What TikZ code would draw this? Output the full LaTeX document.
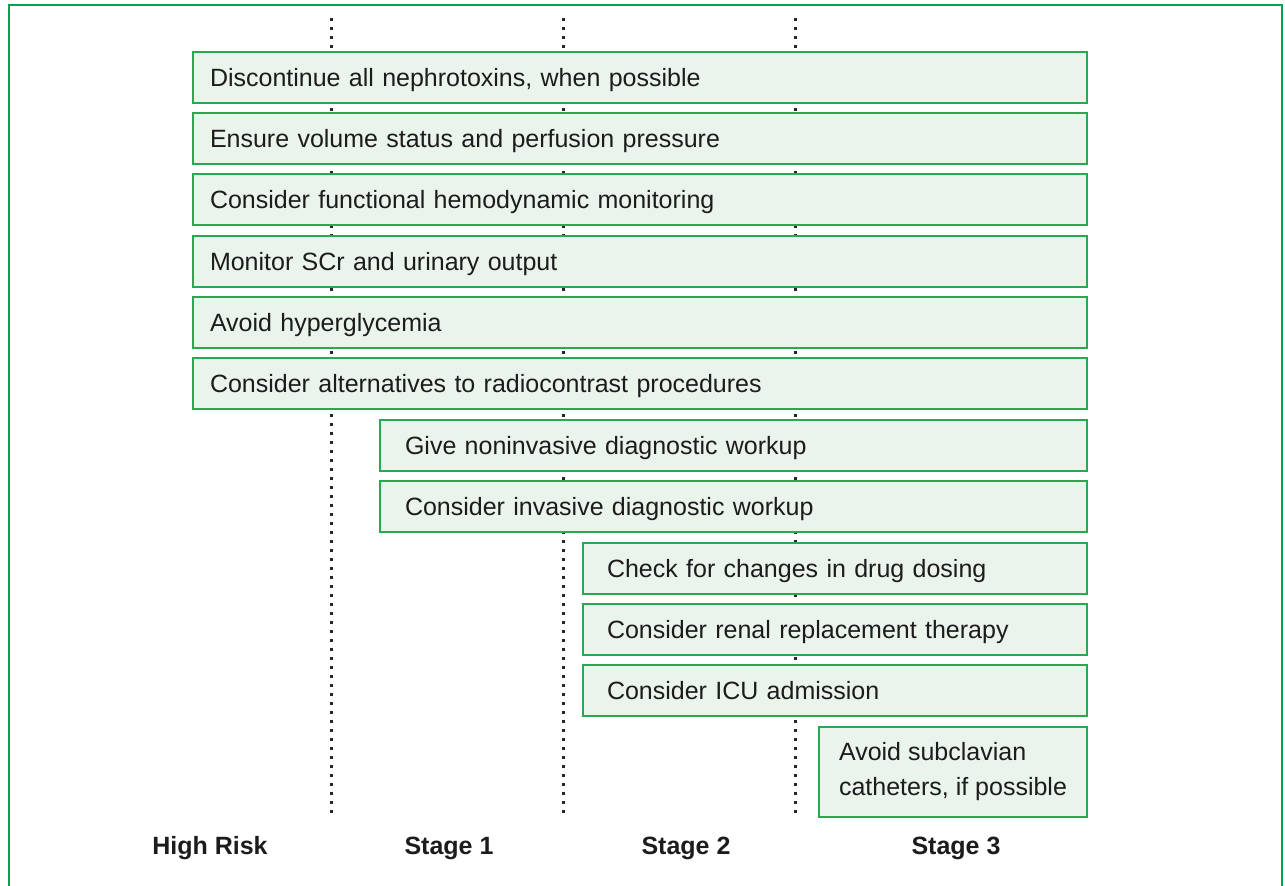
\documentclass[tikz,border=0pt]{standalone}
\usepackage{fontspec}
\setmainfont{Liberation Sans}
\definecolor{frgreen}{RGB}{0,163,80}
\definecolor{bxgreen}{RGB}{40,168,80}
\definecolor{bxfill}{RGB}{234,244,235}
\definecolor{txt}{RGB}{28,28,28}
\begin{document}
\begin{tikzpicture}[x=1pt,y=-1pt,
  box/.style={draw=bxgreen, fill=bxfill, line width=2pt, anchor=north west,
    minimum height=51pt, inner ysep=0pt, align=left, text=txt,
    font=\fontsize{25}{35}\selectfont, text height=18pt, text depth=0pt},
  stagelabel/.style={font=\fontsize{25}{30}\selectfont\bfseries, text=txt,
    text height=18pt, text depth=0pt, inner sep=0pt},
  guide/.style={line width=3pt, dash pattern=on 3pt off 6pt, black!85}]
\useasboundingbox (0,0) rectangle (1285,886);
% outer frame (open at the bottom)
\draw[frgreen, line width=2pt] (9,900) -- (9,5) -- (1282,5) -- (1282,900);
% dotted stage guides
\foreach \n/\x in {1/331,2/563,3/795}{
  \coordinate (g\n t) at (\x,18);
  \coordinate (g\n b) at (\x,816);
  \draw[guide] (g\n t) -- (g\n b);
}
% boxes
\node[box, inner xsep=17pt, text width=860pt] (b1) at (192,51) {Discontinue all nephrotoxins, when possible};
\node[box, inner xsep=17pt, text width=860pt] (b2) at (192,112) {Ensure volume status and perfusion pressure};
\node[box, inner xsep=17pt, text width=860pt] (b3) at (192,173) {Consider functional hemodynamic monitoring};
\node[box, inner xsep=17pt, text width=860pt] (b4) at (192,235) {Monitor SCr and urinary output};
\node[box, inner xsep=17pt, text width=860pt] (b5) at (192,296) {Avoid hyperglycemia};
\node[box, inner xsep=17pt, text width=860pt] (b6) at (192,357) {Consider alternatives to radiocontrast procedures};
\node[box, inner xsep=25pt, text width=657pt] (b7) at (379,419) {Give noninvasive diagnostic workup};
\node[box, inner xsep=25pt, text width=657pt] (b8) at (379,480) {Consider invasive diagnostic workup};
\node[box, inner xsep=24pt, text width=456pt] (b9) at (582,542) {Check for changes in drug dosing};
\node[box, inner xsep=24pt, text width=456pt] (b10) at (582,603) {Consider renal replacement therapy};
\node[box, inner xsep=24pt, text width=456pt] (b11) at (582,664) {Consider ICU admission};
\node[box, text height=, text depth=, inner xsep=0pt, minimum width=268pt, minimum height=90pt] (b12) at (818,726) {Avoid subclavian\\catheters, if possible};
% stage labels
\node[stagelabel] (l0) at (210,845) {High Risk};
\node[stagelabel] (l1) at (449,845) {Stage 1};
\node[stagelabel] (l2) at (686,845) {Stage 2};
\node[stagelabel] (l3) at (956,845) {Stage 3};
\end{tikzpicture}
\end{document}
